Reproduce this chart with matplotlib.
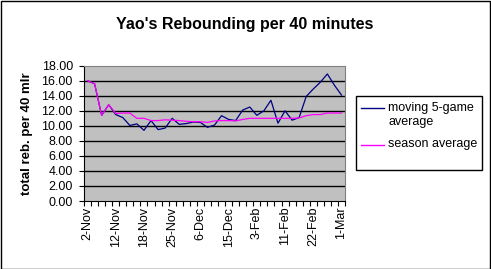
# yao_rebounding.py
# Rebuilds the Excel-style chart of Yao's rebounds per 40 minutes (5-game moving avg vs season avg).

import numpy as np
import matplotlib
matplotlib.use("Agg")
import matplotlib.pyplot as plt
from matplotlib.lines import Line2D
from matplotlib.patches import Rectangle

plt.rcParams['font.family'] = ['Liberation Sans', 'DejaVu Sans']

# Data (one value per game)
moving_avg = [16.0, 15.6, 11.4, 12.8, 11.5, 11.1, 10.05, 10.26, 9.4, 10.7,
              9.5, 9.7, 11.0, 10.2, 10.3, 10.5, 10.45, 9.8, 10.1, 11.35,
              10.85, 10.7, 12.1, 12.5, 11.4, 12.0, 13.4, 10.35, 12.0, 10.75,
              11.1, 13.9, 14.9, 15.8, 16.9, 15.4, 14.1]
season_avg = [16.0, 15.6, 11.4, 12.8, 11.65, 11.7, 11.7, 11.0, 11.0, 10.7,
              10.7, 10.8, 10.75, 10.7, 10.6, 10.55, 10.55, 10.45, 10.65, 10.7,
              10.7, 10.65, 10.85, 11.0, 11.0, 11.0, 11.0, 11.0, 11.0, 11.0,
              11.05, 11.35, 11.5, 11.5, 11.7, 11.7, 11.7]
date_labels = ["2-Nov", "12-Nov", "18-Nov", "25-Nov", "6-Dec",
               "15-Dec", "3-Feb", "11-Feb", "22-Feb", "1-Mar"]
label_every = 4  # games between shown date labels
y_ticks = [0, 2, 4, 6, 8, 10, 12, 14, 16, 18]

games = np.arange(len(moving_avg))

fig = plt.figure(figsize=(4.91, 2.69), dpi=100)
ax = fig.add_axes([84 / 491, 1 - 201 / 269, 261 / 491, 135.3 / 269])
ax.set_facecolor('#C0C0C0')

ax.plot(games, moving_avg, color='#000080', lw=0.9, label='moving 5-game\naverage')
ax.plot(games, season_avg, color='#FF00FF', lw=0.9, label='season average')

ax.set_xlim(-0.5, len(games) - 0.5)
ax.set_ylim(0, 18)

# y axis
ax.set_yticks(y_ticks)
ax.set_yticklabels([f"{v:.2f}" for v in y_ticks], fontsize=9)
for v in y_ticks[1:-1]:
    ax.axhline(v, color='black', lw=1, zorder=1)
ax.tick_params(axis='y', direction='out', length=3.5, width=0.8, pad=4.5)
ax.set_ylabel('total reb. per 40 mlr', fontsize=9.5, fontweight='bold', labelpad=6)

# x axis: ticks between games, labels every 4th game
ax.set_xticks(np.arange(-0.5, len(games), 1), minor=True)
ax.set_xticks(games[::label_every])
ax.set_xticklabels(date_labels, rotation=90, fontsize=9)
ax.tick_params(axis='x', which='minor', direction='out', length=3.5, width=0.8)
ax.tick_params(axis='x', which='major', length=0, pad=4)

for side in ['top', 'right']:
    ax.spines[side].set_color('#808080')
for side in ['left', 'bottom']:
    ax.spines[side].set_color('black')

# title
fig.text(245 / 491, 1 - 24 / 269, "Yao's Rebounding per 40 minutes",
         ha='center', va='center', fontsize=11.5, fontweight='bold')

# legend box (Excel style)
fig.add_artist(Rectangle((356 / 491, 1 - 170 / 269), 126 / 491, 74 / 269,
                         transform=fig.transFigure, fill=True, facecolor='white',
                         edgecolor='black', lw=1))
handles, labels = ax.get_legend_handles_labels()
for h, lab, yc in zip(handles, labels, [108.3, 145]):
    fig.add_artist(Line2D([361 / 491, 384 / 491], [1 - yc / 269] * 2,
                          transform=fig.transFigure, color=h.get_color(), lw=1))
    fig.text(388.5 / 491, 1 - (yc - 6.5) / 269, lab, ha='left', va='top',
             fontsize=9, linespacing=1.2)

# outer chart border
fig.add_artist(Rectangle((0.5 / 491, 0.5 / 269), 489 / 491, 268 / 269,
                         transform=fig.transFigure, fill=False,
                         edgecolor='black', lw=1))

fig.savefig('out.png', dpi=100)
